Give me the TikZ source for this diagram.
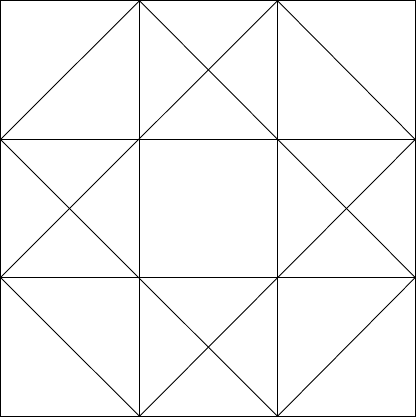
\documentclass[tikz,border=0pt]{standalone}
\begin{document}
\begin{tikzpicture}[x=0.01cm, y=-0.01cm, line width=0.25pt]

		\useasboundingbox (0,0) rectangle (416,417);

		\draw (0.5,0.7) rectangle (415.3,416.3);

		\draw (139.5,0.7) -- (139.5,416.3);
		\draw (277.5,0.7) -- (277.5,416.3);
		\draw (0.5,139.5) -- (415.3,139.5);
		\draw (0.5,277.5) -- (415.3,277.5);

		\draw (0.5,139.5) -- (139.5,0.7) -- (415.3,277.5) -- (277.5,416.3) -- (0.5,139.5);
		\draw (277.5,0.7) -- (415.3,139.5) -- (139.5,416.3) -- (0.5,277.5) -- (277.5,0.7);

	\end{tikzpicture}
\end{document}
